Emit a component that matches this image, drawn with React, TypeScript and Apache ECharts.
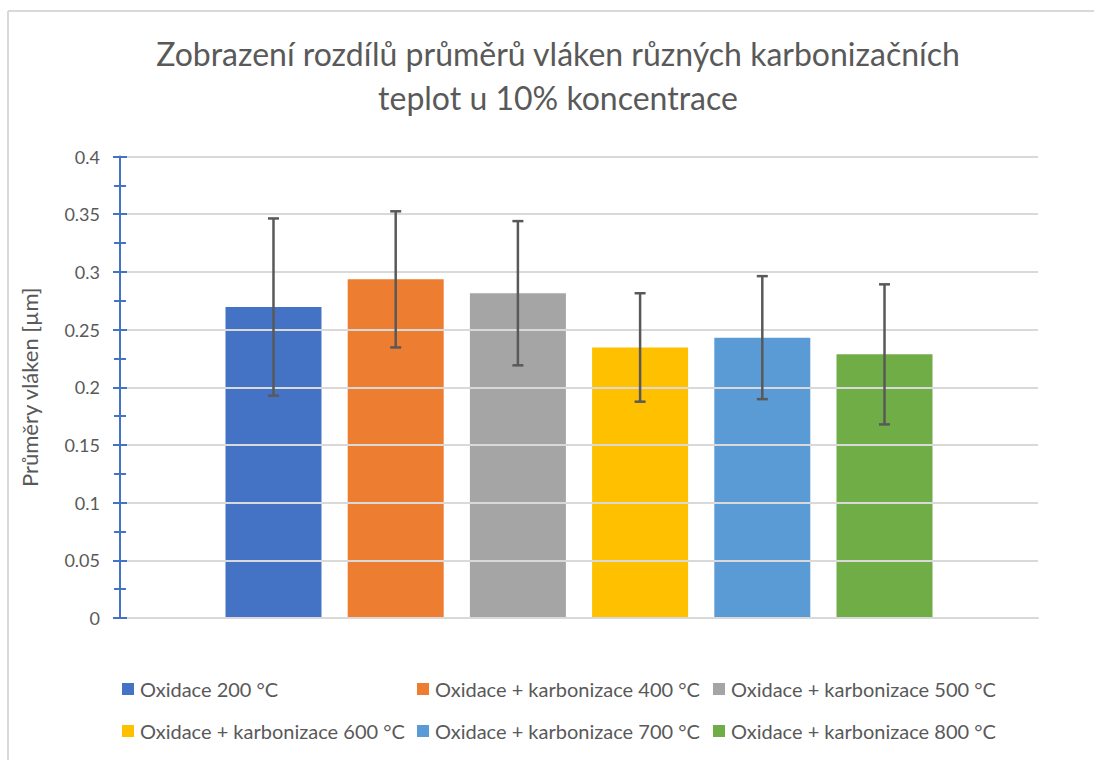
import React, { useEffect, useRef } from "react";
import * as echarts from "echarts";

const seriesNames = [
  "Oxidace 200 °C",
  "Oxidace + karbonizace 400 °C",
  "Oxidace + karbonizace 500 °C",
  "Oxidace + karbonizace 600 °C",
  "Oxidace + karbonizace 700 °C",
  "Oxidace + karbonizace 800 °C",
];
const means = [0.2695, 0.2935, 0.2815, 0.2345, 0.243, 0.2285];
const errors = [0.0768, 0.059, 0.0625, 0.047, 0.0533, 0.0607];
const colors = ["#4472C4", "#ED7D31", "#A5A5A5", "#FFC000", "#5B9BD5", "#70AD47"];
const titleLines = [
  "Zobrazení rozdílů průměrů vláken různých karbonizačních",
  "teplot u 10% koncentrace",
];
const yAxisName = "Průměry vláken [µm]";

const FONT = "Lato, 'Noto Sans', sans-serif";
const TXT = "#595959";

export default function App() {
  const ref = useRef<HTMLDivElement>(null);
  useEffect(() => {
    if (!ref.current) return;
    const chart = echarts.init(ref.current, undefined, { renderer: "svg" });

    const barSeries = seriesNames.map((name, i) => ({
      name,
      type: "bar",
      data: [[i + 1, means[i]]],
      barWidth: 96,
      barGap: "-100%",
      itemStyle: { color: colors[i] },
      xAxisIndex: 0,
      yAxisIndex: 0,
      z: 2,
    }));

    const errData = means.map((m, i) => [i + 1, m - errors[i], m + errors[i]]);

    const legendCols = [122, 417, 713];
    const legendRows = [679, 721];
    const legends = seriesNames.map((name, i) => ({
      data: [{ name, icon: "rect" }],
      left: legendCols[i % 3],
      top: legendRows[Math.floor(i / 3)],
      itemWidth: 12,
      itemHeight: 12,
      itemGap: 0,
      padding: 0,
      selectedMode: false,
      textStyle: { color: TXT, fontSize: 20, fontFamily: FONT, padding: [0, 0, 0, 1] },
    }));

    const tickStyle = { color: "#4472C4", width: 2 };

    chart.setOption({
      animation: false,
      backgroundColor: "#ffffff",
      textStyle: { fontFamily: FONT },
      grid: { left: 120, right: 56, top: 156.5, bottom: 142, containLabel: false },
      legend: legends,
      xAxis: {
        type: "value",
        min: -0.256,
        max: 7.256,
        axisLine: { show: true, onZero: false, lineStyle: { color: "#D9D9D9", width: 2 } },
        axisTick: { show: false },
        axisLabel: { show: false },
        splitLine: { show: false },
      },
      yAxis: [
        {
          type: "value",
          min: 0,
          max: 0.4,
          interval: 0.05,
          name: yAxisName,
          nameLocation: "middle",
          nameRotate: 90,
          nameGap: 80,
          nameTextStyle: { color: TXT, fontSize: 22, fontFamily: FONT },
          axisLine: { show: true, onZero: false, lineStyle: tickStyle },
          axisTick: { show: true, inside: false, length: 7, lineStyle: tickStyle },
          minorTick: { show: true, splitNumber: 2, length: 6, lineStyle: tickStyle },
          axisLabel: {
            color: TXT,
            fontSize: 18,
            fontFamily: FONT,
            margin: 20,
            formatter: (v: number) => String(+v.toFixed(2)),
          },
          splitLine: { show: true, lineStyle: { color: "#D9D9D9", width: 2 } },
          z: 3,
        },
        {
          type: "value",
          min: 0,
          max: 0.4,
          interval: 0.05,
          position: "left",
          offset: 0,
          axisLine: { show: false, onZero: false },
          axisTick: { show: true, inside: true, length: 7, lineStyle: tickStyle },
          minorTick: { show: true, splitNumber: 2, length: 6, lineStyle: tickStyle },
          axisLabel: { show: false },
          splitLine: { show: false },
          z: 3,
        },
      ],
      graphic: [
        { type: "line", shape: { x1: 8, y1: 11, x2: 1094, y2: 11 }, style: { stroke: "#D9D9D9", lineWidth: 2 } },
        { type: "line", shape: { x1: 8, y1: 11, x2: 8, y2: 760 }, style: { stroke: "#D9D9D9", lineWidth: 2 } },
        {
          type: "text",
          x: 558,
          y: 53,
          style: { text: titleLines[0], fill: TXT, fontSize: 32, fontFamily: FONT, textAlign: "center", textVerticalAlign: "middle" },
        },
        {
          type: "text",
          x: 558,
          y: 97,
          style: { text: titleLines[1], fill: TXT, fontSize: 32, fontFamily: FONT, textAlign: "center", textVerticalAlign: "middle" },
        },
      ],
      series: [
        ...barSeries,
        {
          type: "custom",
          name: "errors",
          xAxisIndex: 0,
          yAxisIndex: 0,
          z: 5,
          data: errData,
          renderItem: (_params: any, api: any) => {
            const x = api.value(0);
            const lo = api.coord([x, api.value(1)]);
            const hi = api.coord([x, api.value(2)]);
            const cap = 5.5;
            const st = { stroke: "#595959", lineWidth: 2.5 };
            return {
              type: "group",
              children: [
                { type: "line", shape: { x1: lo[0], y1: lo[1], x2: hi[0], y2: hi[1] }, style: st },
                { type: "line", shape: { x1: lo[0] - cap, y1: lo[1], x2: lo[0] + cap, y2: lo[1] }, style: st },
                { type: "line", shape: { x1: hi[0] - cap, y1: hi[1], x2: hi[0] + cap, y2: hi[1] }, style: st },
              ],
            };
          },
        },
      ],
    });
    return () => chart.dispose();
  }, []);
  return (
    <div
      ref={ref}
      style={{ position: "fixed", left: 0, top: 0, width: 1094, height: 760, background: "#fff" }}
    />
  );
}
